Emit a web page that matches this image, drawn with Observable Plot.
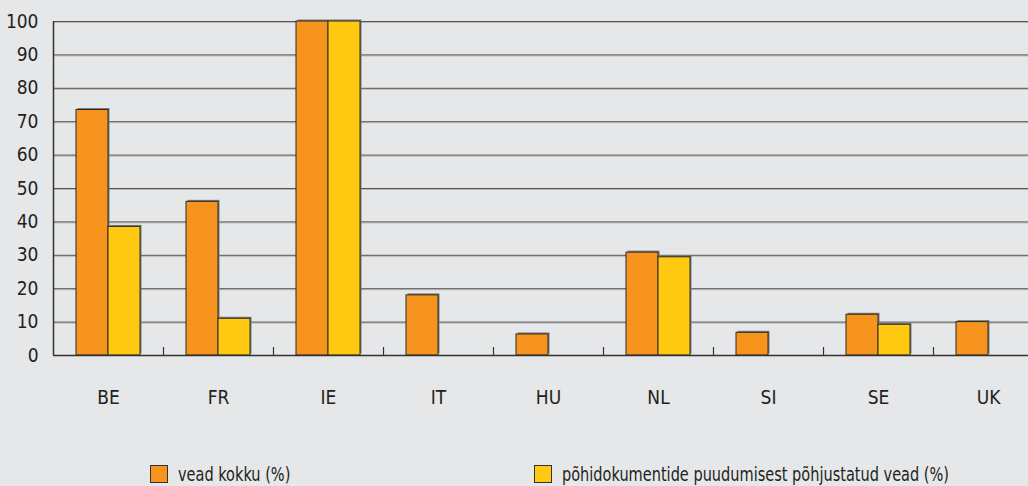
<!DOCTYPE html>
<html><head><meta charset="utf-8">
<script src="https://cdn.jsdelivr.net/npm/d3@7"></script>
<script src="https://cdn.jsdelivr.net/npm/@observablehq/plot@0.6"></script>
<style>
body{margin:0;background:#e6e7e9;font-family:"DejaVu Sans Condensed","DejaVu Sans",sans-serif;font-stretch:condensed;color:#231f20;}
svg text{font-stretch:condensed;}
#wrap{width:1028px;height:486px;overflow:hidden;position:relative;}
#legend{position:relative;height:46px;font-size:19px;line-height:20px;}
.item{position:absolute;top:24px;display:flex;align-items:center;white-space:nowrap;}
.sw{width:18px;height:18px;border:1px solid #333;margin-right:10px;box-sizing:border-box;flex:none;}
.item span{display:inline-block;transform:scaleX(0.85);transform-origin:left center;}
</style></head><body><div id="wrap"><div id="chart"></div><div id="legend"></div></div>
<script>
const categories = ["BE","FR","IE","IT","HU","NL","SI","SE","UK"];
const seriesNames = ["vead kokku (%)", "põhidokumentide puudumisest põhjustatud vead (%)"];
const seriesColors = ["#f7941d", "#fec910"];
const totalErrors = [73.5, 46, 100, 18, 6.3, 30.8, 6.8, 12.2, 10];
const documentErrors = [38.5, 11, 100, null, null, 29.4, null, 9.2, null];
const yTicks = [0,10,20,30,40,50,60,70,80,90,100];

const rows = [];
categories.forEach((c, i) => {
  rows.push({cat: c, series: seriesNames[0], value: totalErrors[i]});
  if (documentErrors[i] != null) rows.push({cat: c, series: seriesNames[1], value: documentErrors[i]});
});

const chart = Plot.plot({
  width: 1043,
  height: 440,
  marginLeft: 53,
  marginRight: 0,
  marginTop: 21,
  marginBottom: 85,
  style: {background: "transparent", maxWidth: "none", fontFamily: '"DejaVu Sans Condensed","DejaVu Sans",sans-serif', color: "#231f20"},
  fx: {domain: categories, padding: 0, label: null},
  x: {domain: seriesNames, paddingInner: 0, paddingOuter: 0.71875, axis: null},
  y: {domain: [0, 100], label: null},
  color: {domain: seriesNames, range: seriesColors},
  marks: [
    Plot.ruleY(yTicks.slice(1), {stroke: "#b8b8b8", strokeWidth: 1, dy: 1}),
    Plot.ruleY(yTicks.slice(1), {stroke: "#555", strokeWidth: 1}),
    Plot.barY(rows, {fx: "cat", x: "series", y: "value", fill: "#7a7a7a", dx: 1.5, dy: -1.5}),
    Plot.barY(rows, {fx: "cat", x: "series", y: "value", fill: "series", stroke: "#2b2b2b", strokeWidth: 1}),
    Plot.ruleY([0], {stroke: "#333", strokeWidth: 1.5}),
    Plot.ruleX(categories.slice(1), {fx: d => d, x: () => seriesNames[0], dx: -39, y1: 0, y2: 2.4, stroke: "#333", strokeWidth: 1.2}),
    Plot.ruleX([categories[0]], {fx: d => d, x: () => seriesNames[0], dx: -39, y1: 0, y2: 100, stroke: "#333", strokeWidth: 1.5}),
    Plot.axisY(yTicks, {tickSize: 0, tickPadding: 15, fontSize: 19, label: null}),
    Plot.axisFx({anchor: "bottom", tickSize: 0, tickPadding: 35, fontSize: 19, label: null})
  ]
});
document.getElementById("chart").appendChild(chart);

const legend = document.getElementById("legend");
const legendLeft = [150, 534];
seriesNames.forEach((name, i) => {
  const item = document.createElement("div");
  item.className = "item";
  item.style.left = legendLeft[i] + "px";
  const sw = document.createElement("div");
  sw.className = "sw";
  sw.style.background = seriesColors[i];
  const t = document.createElement("span");
  t.textContent = name;
  item.appendChild(sw);
  item.appendChild(t);
  legend.appendChild(item);
});
</script></body></html>
